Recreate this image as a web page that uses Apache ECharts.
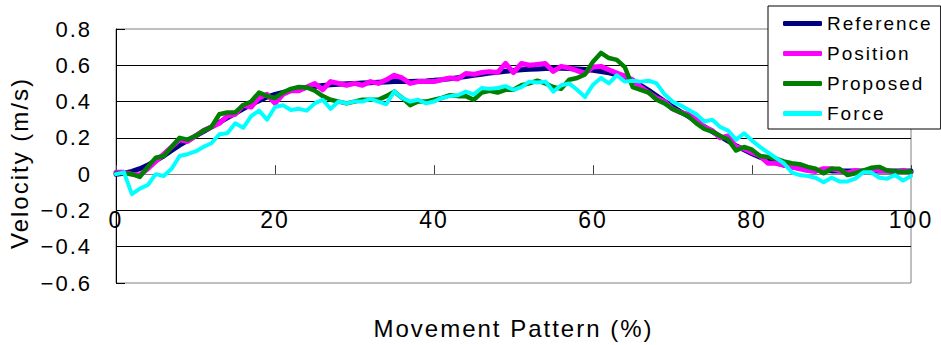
<!DOCTYPE html>
<html>
<head>
<meta charset="utf-8">
<script src="https://cdn.jsdelivr.net/npm/echarts@6/dist/echarts.min.js"></script>
<style>
  html, body { margin: 0; padding: 0; background: #fff; }
  #chart { width: 941px; height: 345px; }
  /* wide, typewriter-like tracking for every label */
  #chart svg text { letter-spacing: 2px; }
</style>
</head>
<body>
<div id="chart"></div>
<script>
// Movement pattern in percent, sampled every 1 %
const movement = Array.from({ length: 101 }, (_, i) => i);

// Velocity profiles (m/s)
const reference = [
  0, 0.005, 0.015, 0.03, 0.05, 0.075, 0.10, 0.13, 0.16, 0.185,
  0.21, 0.235, 0.26, 0.285, 0.31, 0.335, 0.36, 0.385, 0.405, 0.425,
  0.44, 0.45, 0.46, 0.47, 0.477, 0.483, 0.488, 0.492, 0.495, 0.498,
  0.50, 0.502, 0.504, 0.506, 0.508, 0.51, 0.51, 0.51, 0.512, 0.514,
  0.517, 0.521, 0.526, 0.532, 0.538, 0.545, 0.551, 0.557, 0.562, 0.567,
  0.571, 0.575, 0.578, 0.58, 0.582, 0.583, 0.583, 0.582, 0.58, 0.577,
  0.572, 0.566, 0.558, 0.548, 0.535, 0.515, 0.49, 0.462, 0.432, 0.402,
  0.372, 0.345, 0.318, 0.29, 0.262, 0.235, 0.208, 0.182, 0.157, 0.134,
  0.113, 0.094, 0.077, 0.062, 0.05, 0.04, 0.032, 0.026, 0.022, 0.02,
  0.018, 0.018, 0.018, 0.018, 0.018, 0.018, 0.018, 0.018, 0.018, 0.018,
  0.018
];

const position = [
  0.01, 0.01, 0.0, -0.005, 0.03, 0.07, 0.11, 0.15, 0.19, 0.18,
  0.21, 0.24, 0.26, 0.28, 0.32, 0.33, 0.38, 0.37, 0.42, 0.44,
  0.39, 0.44, 0.46, 0.46, 0.48, 0.50, 0.465, 0.51, 0.50, 0.49,
  0.50, 0.49, 0.51, 0.50, 0.52, 0.545, 0.53, 0.50, 0.51, 0.51,
  0.51, 0.52, 0.53, 0.525, 0.555, 0.55, 0.56, 0.565, 0.56, 0.61,
  0.56, 0.61, 0.60, 0.605, 0.61, 0.566, 0.594, 0.585, 0.57, 0.557,
  0.59, 0.594, 0.575, 0.557, 0.54, 0.52, 0.48, 0.45, 0.42, 0.40,
  0.36, 0.34, 0.33, 0.30, 0.26, 0.24, 0.20, 0.21, 0.15, 0.14,
  0.12, 0.10, 0.06, 0.06, 0.05, 0.04, 0.03, 0.02, 0.015, 0.03,
  0.03, 0.02, 0.005, 0.02, 0.01, 0.03, 0.02, 0.02, 0.01, 0.02,
  0.01
];

const proposed = [
  0.005, 0.005, 0.0, -0.015, 0.04, 0.09, 0.10, 0.15, 0.20, 0.19,
  0.21, 0.24, 0.26, 0.33, 0.34, 0.34, 0.38, 0.40, 0.45, 0.43,
  0.42, 0.45, 0.47, 0.48, 0.478, 0.46, 0.43, 0.41, 0.40, 0.39,
  0.40, 0.41, 0.41, 0.41, 0.43, 0.455, 0.42, 0.38, 0.40, 0.40,
  0.41, 0.42, 0.435, 0.43, 0.43, 0.41, 0.45, 0.46, 0.45, 0.465,
  0.465, 0.49, 0.50, 0.515, 0.50, 0.48, 0.47, 0.52, 0.53, 0.55,
  0.62, 0.668, 0.64, 0.63, 0.59, 0.48, 0.465, 0.45, 0.41, 0.39,
  0.36, 0.34, 0.32, 0.28, 0.25, 0.235, 0.21, 0.19, 0.13, 0.15,
  0.135, 0.10, 0.095, 0.085, 0.07, 0.06, 0.055, 0.04, 0.03, 0.005,
  0.03, 0.03, -0.005, 0.005, 0.02, 0.035, 0.04, 0.02, 0.015, 0.013,
  0.013
];

const force = [
  0.0, 0.01, -0.11, -0.08, -0.06, 0.0, -0.01, 0.03, 0.10, 0.11,
  0.125, 0.15, 0.17, 0.22, 0.225, 0.28, 0.255, 0.32, 0.35, 0.30,
  0.37, 0.38, 0.354, 0.36, 0.35, 0.39, 0.41, 0.36, 0.40, 0.39,
  0.40, 0.40, 0.415, 0.40, 0.385, 0.456, 0.42, 0.40, 0.41, 0.39,
  0.40, 0.42, 0.43, 0.435, 0.455, 0.44, 0.475, 0.47, 0.475, 0.485,
  0.465, 0.48, 0.51, 0.505, 0.51, 0.455, 0.49, 0.50, 0.465, 0.425,
  0.493, 0.53, 0.50, 0.545, 0.51, 0.515, 0.51, 0.515, 0.50, 0.44,
  0.40, 0.38, 0.355, 0.33, 0.29, 0.30, 0.26, 0.24, 0.19, 0.225,
  0.185, 0.15, 0.12, 0.09, 0.06, 0.01, -0.005, -0.01, -0.02, -0.045,
  -0.02, -0.04, -0.04, -0.025, 0.01, 0.01, -0.02, -0.025, -0.005, -0.035,
  -0.01
];

// Axis ticks
const xTicks = [0, 20, 40, 60, 80, 100];
const yTicks = [-0.6, -0.4, -0.2, 0, 0.2, 0.4, 0.6, 0.8];

const seriesNames = ['Reference', 'Position', 'Proposed', 'Force'];
const seriesColors = ['#000080', '#FF00FF', '#008000', '#00FFFF'];
const seriesWidths = [5, 5, 4.5, 4];
const seriesValues = [reference, position, proposed, force];

const FONT = "'Liberation Sans', sans-serif";

const chart = echarts.init(document.getElementById('chart'), null, { renderer: 'svg' });

chart.setOption({
  animation: false,
  backgroundColor: '#ffffff',
  textStyle: { fontFamily: FONT },
  grid: {
    left: 116, right: 30, top: 29, bottom: 62,
    outerBoundsMode: 'none',
    containLabel: false,
    show: true, borderColor: '#808080', borderWidth: 1,
    backgroundColor: '#ffffff'
  },
  legend: {
    orient: 'vertical',
    left: 768, top: 6,
    z: 20,
    padding: [8, 26, 6, 15],
    itemGap: 11,
    itemWidth: 39, itemHeight: 5,
    icon: 'roundRect',
    backgroundColor: '#ffffff',
    borderColor: '#000000', borderWidth: 1,
    textStyle: { fontFamily: FONT, fontSize: 19, color: '#000' },
    data: seriesNames
  },
  xAxis: {
    type: 'value',
    min: xTicks[0], max: xTicks[xTicks.length - 1],
    interval: xTicks[1] - xTicks[0],
    name: 'Movement Pattern (%)',
    nameLocation: 'middle',
    nameGap: 33,
    nameMoveOverlap: false,
    nameTextStyle: { fontFamily: FONT, fontSize: 24, color: '#000' },
    axisLine: { onZero: true, lineStyle: { color: '#808080', width: 1 } },
    axisTick: { inside: true, length: 9, lineStyle: { color: '#404040' } },
    axisLabel: { margin: -75, fontFamily: FONT, fontSize: 23, color: '#000', showMinLabel: true, showMaxLabel: true },
    splitLine: { show: false }
  },
  yAxis: {
    type: 'value',
    min: yTicks[0], max: yTicks[yTicks.length - 1],
    interval: 0.2,
    name: 'Velocity (m/s)',
    nameLocation: 'middle',
    nameGap: 85,
    nameMoveOverlap: false,
    nameTextStyle: { fontFamily: FONT, fontSize: 24, color: '#000', padding: [0, 14, 0, 0] },
    axisLine: { show: true, onZero: false, lineStyle: { color: '#000', width: 1 } },
    axisTick: { show: true, inside: true, length: 9, lineStyle: { color: '#000' } },
    axisLabel: {
      margin: 24, fontFamily: FONT, fontSize: 22, color: '#000',
      showMinLabel: true, showMaxLabel: true, hideOverlap: false,
      formatter: v => {
        const r = Math.round(v * 10) / 10;
        return String(r).replace('-', '\u2212');
      }
    },
    splitLine: {
      show: true, showMinLine: false, showMaxLine: false,
      lineStyle: { color: '#000', width: 1 }
    }
  },
  series: seriesNames.map((name, k) => ({
    name,
    type: 'line',
    symbol: 'none',
    showSymbol: false,
    z: 2,
    lineStyle: { color: seriesColors[k], width: seriesWidths[k], cap: 'round', join: 'round' },
    itemStyle: { color: seriesColors[k] },
    data: movement.map((x, i) => [x, seriesValues[k][i]])
  }))
});
</script>
</body>
</html>
